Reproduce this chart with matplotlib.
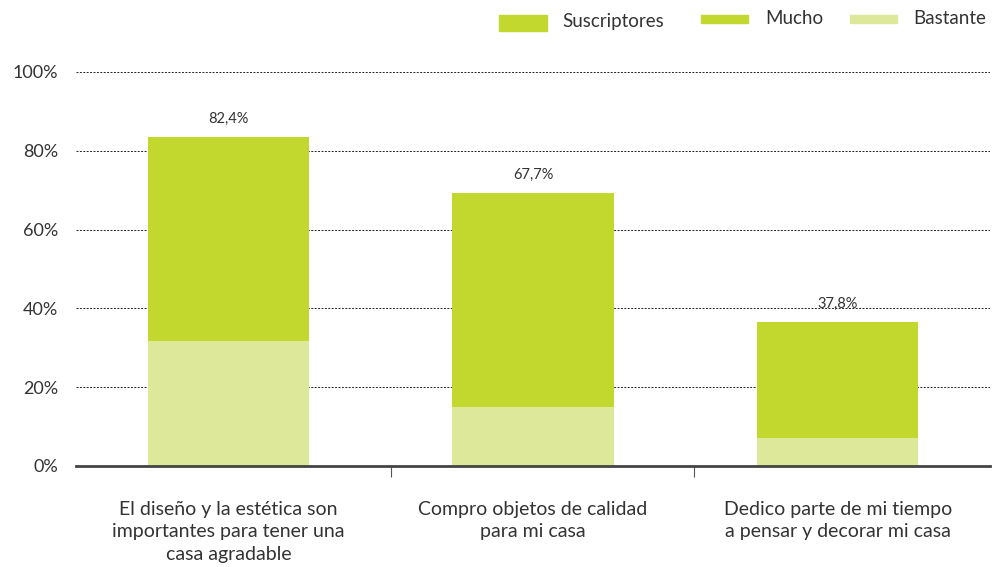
import matplotlib
matplotlib.use("Agg")
import matplotlib.pyplot as plt
from matplotlib.patches import Rectangle

plt.rcParams['font.family'] = ['Lato', 'DejaVu Sans']

categories = ["El diseño y la estética son\nimportantes para tener una\ncasa agradable",
              "Compro objetos de calidad\npara mi casa",
              "Dedico parte de mi tiempo\na pensar y decorar mi casa"]
bastante = [31.7, 15.0, 7.1]
mucho = [51.8, 54.3, 29.4]
total_labels = ["82,4%", "67,7%", "37,8%"]
yticks = [0, 20, 40, 60, 80, 100]
ytick_labels = ["0%", "20%", "40%", "60%", "80%", "100%"]

c_mucho = "#C2D82E"
c_bast = "#DDE89A"
txt = "#333333"

fig = plt.figure(figsize=(9.93, 5.67), dpi=100)
W, H = 993, 567
ax = fig.add_axes([76 / W, (H - 466) / H, (990 - 76) / W, 394 / H])

x = list(range(len(categories)))
ax.bar(x, bastante, width=0.53, color=c_bast, zorder=3)
ax.bar(x, mucho, width=0.53, bottom=bastante, color=c_mucho, zorder=3)

for i in x:
    top = bastante[i] + mucho[i]
    ax.text(i, top + 2.8, total_labels[i], ha='center', va='bottom', fontsize=10.5, color=txt)

ax.set_xlim(-0.5, 2.5)
ax.set_ylim(0, 100)
ax.set_yticks(yticks)
ax.set_yticklabels(ytick_labels, fontsize=13, color=txt)
ax.yaxis.grid(True, linestyle=(0, (2, 1.5)), color='#222222', linewidth=0.7, zorder=0)
ax.tick_params(axis='y', length=0, pad=13)

ax.set_xticks(x)
ax.set_xticklabels(categories, fontsize=14, color=txt, linespacing=1.4)
ax.tick_params(axis='x', which='major', length=0, pad=25)
ax.set_xticks([0.535, 1.53], minor=True)
ax.tick_params(axis='x', which='minor', length=8, width=0.8, color='#555555', direction='out')

for s in ['top', 'right', 'left']:
    ax.spines[s].set_visible(False)
ax.spines['bottom'].set_color('#444444')
ax.spines['bottom'].set_linewidth(2)
ax.spines['bottom'].set_zorder(4)

# legend
def fig_rect(x0, y0, x1, y1, color):
    fig.patches.append(Rectangle((x0 / W, 1 - y1 / H), (x1 - x0) / W, (y1 - y0) / H,
                                 transform=fig.transFigure, color=color, figure=fig))

fig_rect(499, 15, 547, 31, c_mucho)
fig.text(562 / W, 1 - 22 / H, "Suscriptores", fontsize=13.5, color=txt, va='center', ha='left')
fig_rect(701, 15, 748, 23, c_mucho)
fig.text(765 / W, 1 - 19 / H, "Mucho", fontsize=13.5, color=txt, va='center', ha='left')
fig_rect(850, 15, 897, 23, c_bast)
fig.text(913 / W, 1 - 19 / H, "Bastante", fontsize=13.5, color=txt, va='center', ha='left')

fig.savefig("out.png", dpi=100)
